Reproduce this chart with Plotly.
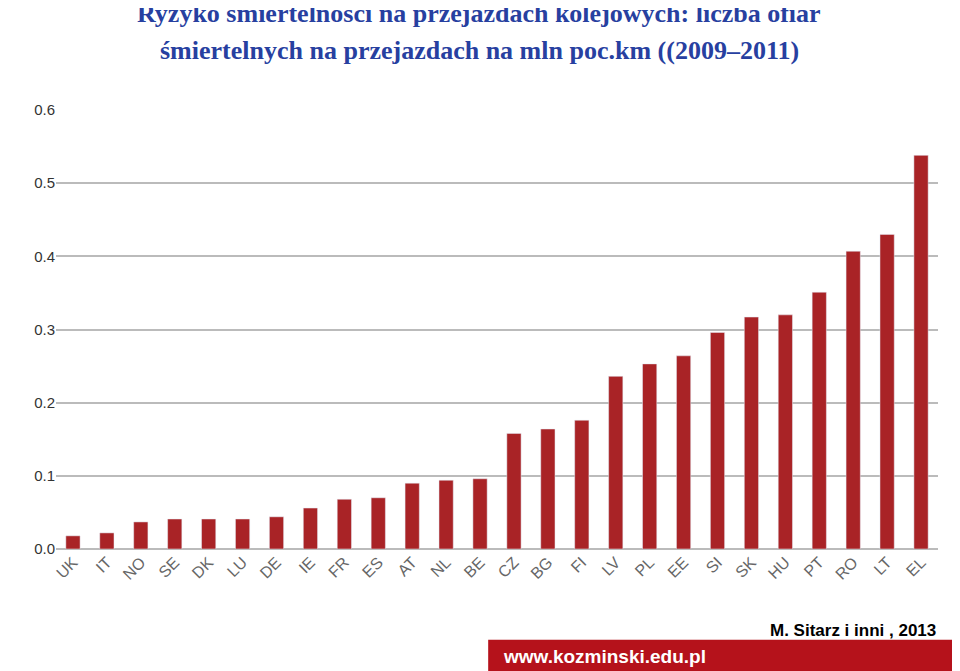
import plotly.graph_objects as go

countries = ["UK", "IT", "NO", "SE", "DK", "LU", "DE", "IE", "FR", "ES", "AT", "NL", "BE",
             "CZ", "BG", "FI", "LV", "PL", "EE", "SI", "SK", "HU", "PT", "RO", "LT", "EL"]
ryzyko = [0.018, 0.022, 0.037, 0.041, 0.041, 0.041, 0.044, 0.056, 0.068, 0.070, 0.090, 0.094, 0.096,
          0.158, 0.164, 0.176, 0.236, 0.253, 0.264, 0.296, 0.317, 0.320, 0.351, 0.407, 0.430, 0.538]
y_ticks = [0.0, 0.1, 0.2, 0.3, 0.4, 0.5, 0.6]

fig = go.Figure(go.Bar(x=countries, y=ryzyko, marker_color="#A92326", width=0.42))

title_font = dict(family="Liberation Serif", size=26, color="#2740A0")

fig.update_layout(
    width=960, height=671,
    paper_bgcolor="white", plot_bgcolor="white",
    margin=dict(l=48, r=30, t=102, b=130),
    showlegend=False,
    xaxis=dict(tickangle=-45, tickfont=dict(family="Liberation Sans", size=16, color="#666666"),
               showline=False, ticks=""),
    yaxis=dict(range=[0, 0.6], tickvals=y_ticks, tickformat=".1f",
               showgrid=True, gridcolor="#BBBBBB", gridwidth=1.5,
               zeroline=True, zerolinecolor="#BBBBBB", zerolinewidth=1.5,
               tickfont=dict(family="Liberation Sans", size=15, color="#333333")),
    shapes=[dict(type="rect", xref="paper", yref="paper", x0=0.49, x1=1.1, y0=-0.33, y1=-0.207,
                 fillcolor="#B5121B", line_width=0, layer="below")],
    annotations=[
        dict(text="<b>Ryzyko śmiertelności na przejazdach kolejowych: liczba ofiar</b>",
             xref="paper", yref="paper", x=0.48, y=1.219, yanchor="middle",
             showarrow=False, font=title_font),
        dict(text="<b>śmiertelnych na przejazdach na mln poc.km ((2009–2011)</b>",
             xref="paper", yref="paper", x=0.48, y=1.135, yanchor="middle",
             showarrow=False, font=title_font),
        dict(text="<b>M. Sitarz i inni , 2013</b>", xref="paper", yref="paper", x=1.0, y=-0.185,
             xanchor="right", yanchor="middle", showarrow=False,
             font=dict(family="Liberation Sans", size=17, color="black")),
        dict(text="<b>www.kozminski.edu.pl</b>", xref="paper", yref="paper", x=0.505, y=-0.245,
             xanchor="left", yanchor="middle", showarrow=False,
             font=dict(family="Liberation Sans", size=19, color="white")),
    ],
)

fig.write_html("out.html")
